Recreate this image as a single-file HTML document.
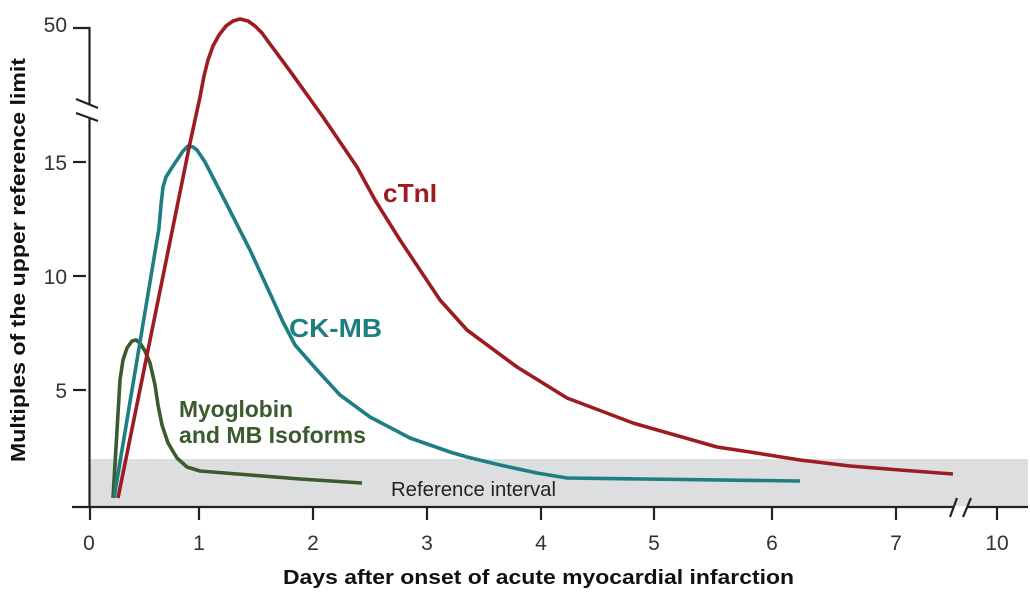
<!DOCTYPE html>
<html><head><meta charset="utf-8"><style>
html,body{margin:0;padding:0;background:#fff;}
svg{display:block;}
text{font-family:"Liberation Sans",Arial,sans-serif;}
</style></head><body>
<svg width="1030" height="595" viewBox="0 0 1030 595" xmlns="http://www.w3.org/2000/svg">
<rect x="0" y="0" width="1030" height="595" fill="#fff"/>
<!-- reference band -->
<rect x="90" y="459" width="938" height="47" fill="#dddedf"/>
<text x="391" y="496" font-size="20" fill="#222" textLength="165" lengthAdjust="spacingAndGlyphs">Reference interval</text>

<!-- axes -->
<g stroke="#222" stroke-width="2.2" fill="none">
<polyline points="73,28 89.5,28 89.5,104"/>
<line x1="89.5" y1="117" x2="89.5" y2="507"/>
<line x1="76" y1="99" x2="98" y2="108"/>
<line x1="76" y1="113" x2="98" y2="121"/>
<line x1="73" y1="162" x2="86" y2="162"/>
<line x1="73" y1="276" x2="86" y2="276"/>
<line x1="73" y1="390" x2="86" y2="390"/>
<line x1="72" y1="507" x2="953" y2="507"/>
<line x1="967" y1="507" x2="1028" y2="507"/>
<line x1="950" y1="517" x2="957" y2="498"/>
<line x1="963" y1="517" x2="971" y2="498"/>
<line x1="90" y1="507" x2="90" y2="520"/>
<line x1="199" y1="507" x2="199" y2="520"/>
<line x1="313" y1="507" x2="313" y2="520"/>
<line x1="427" y1="507" x2="427" y2="520"/>
<line x1="541" y1="507" x2="541" y2="520"/>
<line x1="654" y1="507" x2="654" y2="520"/>
<line x1="772" y1="507" x2="772" y2="520"/>
<line x1="896" y1="507" x2="896" y2="520"/>
<line x1="997" y1="507" x2="997" y2="520"/>
</g>

<!-- y tick labels -->
<g font-size="21" fill="#333" text-anchor="end">
<text x="67" y="32">50</text>
<text x="67" y="170">15</text>
<text x="67" y="284">10</text>
<text x="67" y="398">5</text>
</g>
<!-- x tick labels -->
<g font-size="21" fill="#333" text-anchor="middle">
<text x="89" y="550">0</text>
<text x="199" y="550">1</text>
<text x="313" y="550">2</text>
<text x="427" y="550">3</text>
<text x="541" y="550">4</text>
<text x="654" y="550">5</text>
<text x="772" y="550">6</text>
<text x="896" y="550">7</text>
<text x="997" y="550">10</text>
</g>

<!-- axis titles -->
<text x="283" y="584" font-size="20" font-weight="bold" fill="#111" textLength="511" lengthAdjust="spacingAndGlyphs">Days after onset of acute myocardial infarction</text>
<text transform="translate(25,462) rotate(-90)" x="0" y="0" font-size="20" font-weight="bold" fill="#111" textLength="404" lengthAdjust="spacingAndGlyphs">Multiples of the upper reference limit</text>

<!-- series -->
<g fill="none" stroke-width="3.6" stroke-linejoin="round" stroke-linecap="butt">
<polyline stroke="#3b5a2d" points="113,498 120,380 123,360 127,348 132,341 136,340 140,343 145,351 150,363 155,385 158,405 162,425 168,443 177,458 187,467 200,471 250,475 300,479 362,483"/>
<polyline stroke="#1f7e82" points="114,498 159,228 161,205 163,187 166,177 171,169 177,160 183,151 188,146 193,147 197,150 205,162 223,197 250,250 273,300 283,322 295,345 317,370 340,395 370,417 410,438 450,452 467,457 500,465 537,473 567,478 800,481"/>
<polyline stroke="#9d1b22" points="118,498 190,143 200,97 204,76 208,60 213,46 219,35 226,26 233,21 240,19 248,21 255,26 262,33 270,44 290,71 323,117 357,167 375,200 400,240 440,300 467,330 517,367 567,398 633,423 717,447 750,452 800,460 850,466 900,470 953,474"/>
</g>

<!-- series labels -->
<text x="383" y="202" font-size="26" font-weight="bold" fill="#9d1b22" textLength="54" lengthAdjust="spacingAndGlyphs">cTnI</text>
<text x="289" y="337" font-size="26" font-weight="bold" fill="#1f7e82" textLength="93" lengthAdjust="spacingAndGlyphs">CK-MB</text>
<text x="179" y="417" font-size="23" font-weight="bold" fill="#3b5a2d" textLength="114" lengthAdjust="spacingAndGlyphs">Myoglobin</text>
<text x="179" y="443" font-size="23" font-weight="bold" fill="#3b5a2d" textLength="187" lengthAdjust="spacingAndGlyphs">and MB Isoforms</text>
</svg>
</body></html>
